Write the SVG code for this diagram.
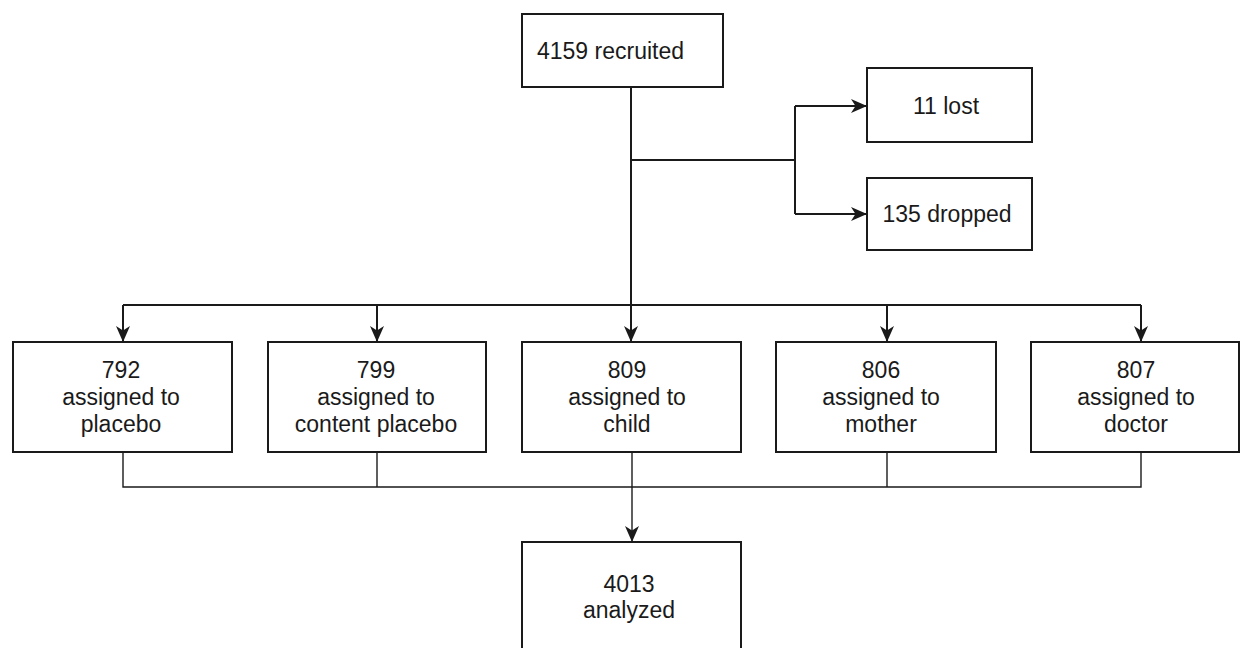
<svg xmlns="http://www.w3.org/2000/svg" width="1241" height="648" viewBox="0 0 1241 648">
  <style>
    .box { fill: #ffffff; stroke: #1a1a1a; stroke-width: 2; }
    .t { font-family: "Liberation Sans", Arial, sans-serif; font-size: 23px; fill: #1a1a1a; }
    .c { text-anchor: middle; }
    .ln { fill: none; stroke: #1a1a1a; stroke-width: 2; }
    .thin { fill: none; stroke: #1a1a1a; stroke-width: 1.4; }
  </style>
  <defs>
    <marker id="arr" markerUnits="userSpaceOnUse" markerWidth="18" markerHeight="16" refX="16" refY="7" orient="auto">
      <path d="M0,0 L16,7 L0,14 L4.5,7 Z" fill="#1a1a1a"/>
    </marker>
  </defs>
  <rect width="1241" height="648" fill="#ffffff"/>

  <g id="connectors">
    <path class="ln" d="M631,87 V342" marker-end="url(#arr)"/>
    <path class="ln" d="M631,160 H795"/>
    <path class="ln" d="M795,106 V214"/>
    <path class="ln" d="M795,106 H867" marker-end="url(#arr)"/>
    <path class="ln" d="M795,214 H867" marker-end="url(#arr)"/>
    <path class="ln" d="M123,305 H1141"/>
    <path class="ln" d="M123,305 V342" marker-end="url(#arr)"/>
    <path class="ln" d="M377,305 V342" marker-end="url(#arr)"/>
    <path class="ln" d="M887,305 V342" marker-end="url(#arr)"/>
    <path class="ln" d="M1141,305 V342" marker-end="url(#arr)"/>
    <path class="thin" d="M123,452 V487 H1141 V452"/>
    <path class="thin" d="M377,452 V487"/>
    <path class="thin" d="M887,452 V487"/>
    <path class="thin" d="M632,452 V542" marker-end="url(#arr)"/>
  </g>

  <g id="recruited">
    <rect class="box" x="522" y="14" width="201" height="73"/>
    <text class="t" x="537" y="59">4159 recruited</text>
  </g>
  <g id="lost">
    <rect class="box" x="867" y="68" width="165" height="74"/>
    <text class="t c" x="946" y="114">11 lost</text>
  </g>
  <g id="dropped">
    <rect class="box" x="867" y="178" width="165" height="72"/>
    <text class="t c" x="947" y="222">135 dropped</text>
  </g>
  <g id="placebo">
    <rect class="box" x="13" y="342" width="219" height="110"/>
    <text class="t c" x="121" y="378">792</text>
    <text class="t c" x="121" y="405">assigned to</text>
    <text class="t c" x="121" y="432">placebo</text>
  </g>
  <g id="content-placebo">
    <rect class="box" x="268" y="342" width="218" height="110"/>
    <text class="t c" x="376" y="378">799</text>
    <text class="t c" x="376" y="405">assigned to</text>
    <text class="t c" x="376" y="432">content placebo</text>
  </g>
  <g id="child">
    <rect class="box" x="522" y="342" width="219" height="110"/>
    <text class="t c" x="627" y="378">809</text>
    <text class="t c" x="627" y="405">assigned to</text>
    <text class="t c" x="627" y="432">child</text>
  </g>
  <g id="mother">
    <rect class="box" x="776" y="342" width="220" height="110"/>
    <text class="t c" x="881" y="378">806</text>
    <text class="t c" x="881" y="405">assigned to</text>
    <text class="t c" x="881" y="432">mother</text>
  </g>
  <g id="doctor">
    <rect class="box" x="1031" y="342" width="208" height="110"/>
    <text class="t c" x="1136" y="378">807</text>
    <text class="t c" x="1136" y="405">assigned to</text>
    <text class="t c" x="1136" y="432">doctor</text>
  </g>
  <g id="analyzed">
    <rect class="box" x="522" y="542" width="219" height="120"/>
    <text class="t c" x="629" y="592">4013</text>
    <text class="t c" x="629" y="618">analyzed</text>
  </g>
</svg>
